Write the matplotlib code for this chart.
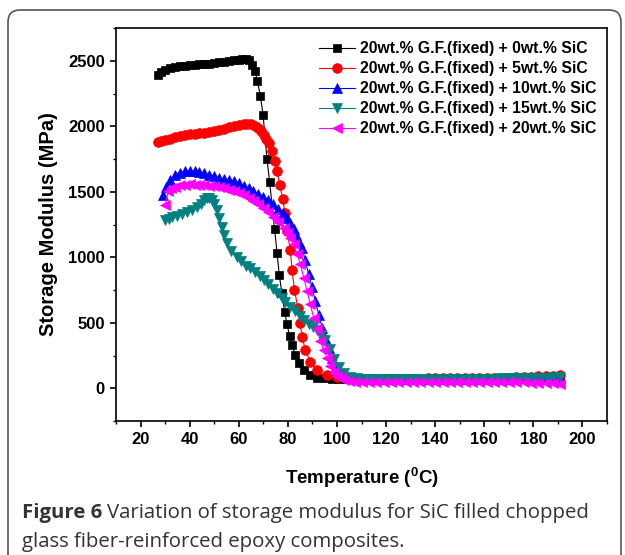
import matplotlib
matplotlib.use("Agg")
import matplotlib.pyplot as plt
from matplotlib.patches import FancyBboxPatch
from matplotlib.ticker import MultipleLocator

plt.rcParams['font.family'] = ['Liberation Sans', 'DejaVu Sans']
plt.rcParams['font.weight'] = 'bold'
plt.rcParams['mathtext.fontset'] = 'custom'
plt.rcParams['mathtext.rm'] = 'Liberation Sans:bold'
plt.rcParams['mathtext.bf'] = 'Liberation Sans:bold'

# temperature points shared by the flat high-temperature tail
temp_tail = [110, 113, 116, 119, 122, 125, 128, 131, 134, 137, 140, 143, 146, 149,
             152, 155, 158, 161, 164, 167, 170, 173, 176, 179, 182, 185, 188, 191]

# 0 wt.% SiC
t_0 = [27, 28.5, 30, 32, 34, 36, 38, 40, 42, 44, 46, 48, 50, 52, 54, 56, 58, 60, 61.5, 63,
       64.3, 65.4, 66.7, 67.6, 68.8, 69.9, 71.5, 72.6, 74.6, 75.6, 76.5, 77.6, 78.7, 79.7, 80.7,
       81.7, 83.1, 84.4, 86.5, 89.2, 92, 95, 98, 101, 104, 107]
e_0 = [2395, 2415, 2430, 2442, 2452, 2458, 2463, 2467, 2470, 2473, 2476, 2479, 2483, 2487, 2492,
       2497, 2503, 2509, 2514, 2517, 2505, 2471, 2420, 2345, 2232, 2089, 1749, 1571, 1214, 1035,
       865, 724, 584, 487, 400, 329, 252, 189, 138, 99, 82, 75, 72, 70, 69, 68]
tail_0 = [67, 66, 66, 66, 66, 66, 66, 66, 66, 66, 66, 66, 66, 66, 66, 66, 66, 66, 66, 66,
          66, 66, 67, 67, 68, 69, 70, 72]

# 5 wt.% SiC
t_5 = [27, 28.5, 30, 32, 34, 36, 38, 40, 42, 44, 46, 48, 50, 52, 54, 56, 58, 60, 62, 63.5,
       65, 66.5, 68, 69.2, 70.2, 71.2, 72.2, 73.6, 74.6, 75.6, 76.7, 77.9, 78.8, 79.7, 81.0,
       81.7, 82.7, 84.1, 85.0, 85.8, 87.1, 89.2, 91.9, 96, 100, 104, 107]
e_5 = [1877, 1885, 1894, 1905, 1915, 1925, 1933, 1938, 1942, 1946, 1950, 1955, 1962, 1970, 1980,
       1992, 2003, 2011, 2017, 2019, 2015, 2003, 1985, 1960, 1935, 1905, 1872, 1808, 1733, 1657,
       1553, 1443, 1336, 1199, 1056, 903, 750, 609, 500, 393, 291, 201, 138, 99, 86, 79, 75]
tail_5 = [74, 73, 73, 73, 73, 73, 74, 74, 74, 75, 75, 75, 76, 76, 77, 77, 78, 79, 80, 81,
          82, 84, 86, 88, 90, 93, 96, 99]

# 10 wt.% SiC
t_10 = [29.3, 30.5, 32, 34, 36, 38, 40, 42, 44, 46, 48, 50, 52, 54, 56, 58, 60, 62, 64, 66,
        68, 70, 72, 74, 76, 78, 79.5, 81, 82.4, 83.5, 84.7, 85.8, 87, 88.5, 89.8, 91.2, 92.6,
        94, 95.3, 96.6, 98, 99.5, 101, 103, 105, 107]
e_10 = [1477, 1540, 1591, 1625, 1645, 1655, 1658, 1656, 1648, 1640, 1630, 1618, 1608, 1598, 1590,
        1580, 1565, 1545, 1525, 1505, 1485, 1460, 1435, 1405, 1370, 1335, 1300, 1260, 1214, 1170,
        1120, 1074, 980, 870, 770, 666, 560, 461, 380, 308, 230, 170, 130, 100, 85, 78]
tail_10 = [74, 72, 71, 70, 70, 70, 70, 70, 70, 70, 70, 70, 71, 71, 71, 72, 72, 72, 73, 73,
           74, 75, 76, 77, 78, 80, 82, 80]

# 15 wt.% SiC
t_15 = [30, 31.5, 33, 35, 37, 39, 41, 43, 44.5, 46, 47, 48, 49, 50, 51.1, 52.1, 53.1, 54.1, 55.2,
        57, 59.2, 61, 63, 64.7, 66.5, 68.5, 70.1, 72, 74, 75.6, 77.5, 79, 81, 83, 84.8, 86.5,
        88.5, 90.2, 91.9, 93.5, 95, 97, 99, 101, 103, 105.5, 108]
e_15 = [1285, 1295, 1305, 1318, 1333, 1345, 1360, 1385, 1410, 1435, 1450, 1455, 1440, 1405, 1362,
        1300, 1234, 1170, 1107, 1050, 1005, 970, 935, 916, 885, 855, 826, 793, 758, 724, 690,
        660, 622, 590, 555, 520, 488, 465, 444, 410, 370, 300, 225, 160, 115, 88, 78]
tail_15 = [74, 73, 72, 72, 72, 72, 72, 72, 72, 72, 72, 72, 72, 73, 73, 73, 73, 74, 74, 75,
           75, 76, 77, 78, 79, 81, 83, 85]

# 20 wt.% SiC
t_20 = [30, 31.3, 32.5, 34, 36, 38, 40, 42, 44, 46, 48, 50, 52, 54, 56, 58, 60, 62, 64, 66,
        68, 70, 72, 74, 76, 78.3, 79.7, 81, 82.4, 83.8, 85.1, 86.5, 87.8, 89.2, 90.5, 91.9,
        93.2, 94.6, 95.9, 97.3, 98.7, 100, 101.5, 103, 105, 107.5]
e_20 = [1400, 1502, 1525, 1540, 1550, 1555, 1556, 1555, 1553, 1550, 1547, 1543, 1536, 1527, 1517,
        1505, 1490, 1472, 1452, 1430, 1405, 1378, 1345, 1310, 1272, 1227, 1185, 1145, 1099, 1025,
        946, 845, 742, 640, 538, 450, 360, 290, 232, 170, 125, 95, 75, 62, 55, 50]
tail_20 = [48, 47, 47, 46, 46, 46, 46, 46, 46, 46, 46, 46, 46, 46, 46, 46, 46, 46, 46, 45,
           45, 45, 44, 43, 42, 40, 38, 36]

labels = ['20wt.% G.F.(fixed) + 0wt.% SiC', '20wt.% G.F.(fixed) + 5wt.% SiC',
          '20wt.% G.F.(fixed) + 10wt.% SiC', '20wt.% G.F.(fixed) + 15wt.% SiC',
          '20wt.% G.F.(fixed) + 20wt.% SiC']

series = [(t_0, e_0, tail_0), (t_5, e_5, tail_5), (t_10, e_10, tail_10),
          (t_15, e_15, tail_15), (t_20, e_20, tail_20)]
colors = ['#000000', '#ff0000', '#0000ff', '#008080', '#ff00ff']
markers = ['s', 'o', '^', 'v', '<']
msizes = [6, 7, 7.5, 7.5, 7.5]

fig = plt.figure(figsize=(6.25, 5.55), dpi=100)
ax = fig.add_axes([116 / 625, 1 - 421 / 555, 491 / 625, 393 / 555])

for (t, e, tail), c, m, ms, lab in zip(series, colors, markers, msizes, labels):
    ax.plot(t + temp_tail, e + tail, color=c, lw=0.8, marker=m, ms=ms,
            mec=c, mfc=c, mew=0.5, label=lab)

ax.set_xlim(10, 210)
ax.set_ylim(-250, 2750)
ax.xaxis.set_major_locator(MultipleLocator(20))
ax.xaxis.set_minor_locator(MultipleLocator(10))
ax.yaxis.set_major_locator(MultipleLocator(500))
ax.yaxis.set_minor_locator(MultipleLocator(250))
ax.set_xticks(range(20, 201, 20))
ax.tick_params(which='major', direction='out', length=4, width=1.2, labelsize=12, pad=4)
ax.tick_params(which='minor', direction='out', length=2.2, width=1.0)
for lab in ax.get_xticklabels() + ax.get_yticklabels():
    lab.set_fontweight('bold')
for sp in ax.spines.values():
    sp.set_linewidth(1.2)

ax.set_xlabel(r'Temperature ($^{0}$C)', fontsize=13.5, fontweight='bold', labelpad=13)
ax.set_ylabel('Storage Modulus (MPa)', fontsize=14.5, fontweight='bold', labelpad=7)

leg = ax.legend(loc='upper left', bbox_to_anchor=(190 / 491, 1.0), frameon=False,
                prop={'weight': 'bold', 'size': 11.3}, handlelength=2.25,
                handletextpad=0.35, labelspacing=0.32, borderaxespad=0.45)

# rounded frame round the figure and its caption
frame = FancyBboxPatch((0.08, -0.5), 6.13, 5.55 - 0.10 + 0.5,
                       boxstyle='round,pad=0,rounding_size=0.12',
                       transform=fig.dpi_scale_trans, fill=False,
                       edgecolor='#555555', lw=1.2)
fig.patches.append(frame)

cap_font = ['Open Sans', 'DejaVu Sans']
cap_size = 14.7
renderer = fig.canvas.get_renderer()
head = fig.text(22 / 625, 1 - 518 / 555, 'Figure 6', fontsize=cap_size, fontweight='bold',
                family=cap_font, color='#333333', va='baseline')
head_box = head.get_window_extent(renderer=renderer)
fig.text((head_box.x1 + 5) / 625, 1 - 518 / 555,
         'Variation of storage modulus for SiC filled chopped', fontsize=cap_size,
         fontweight='normal', family=cap_font, color='#333333', va='baseline')
fig.text(22 / 625, 1 - 547 / 555, 'glass fiber-reinforced epoxy composites.', fontsize=cap_size,
         fontweight='normal', family=cap_font, color='#333333', va='baseline')

fig.savefig('out.png', dpi=100)
